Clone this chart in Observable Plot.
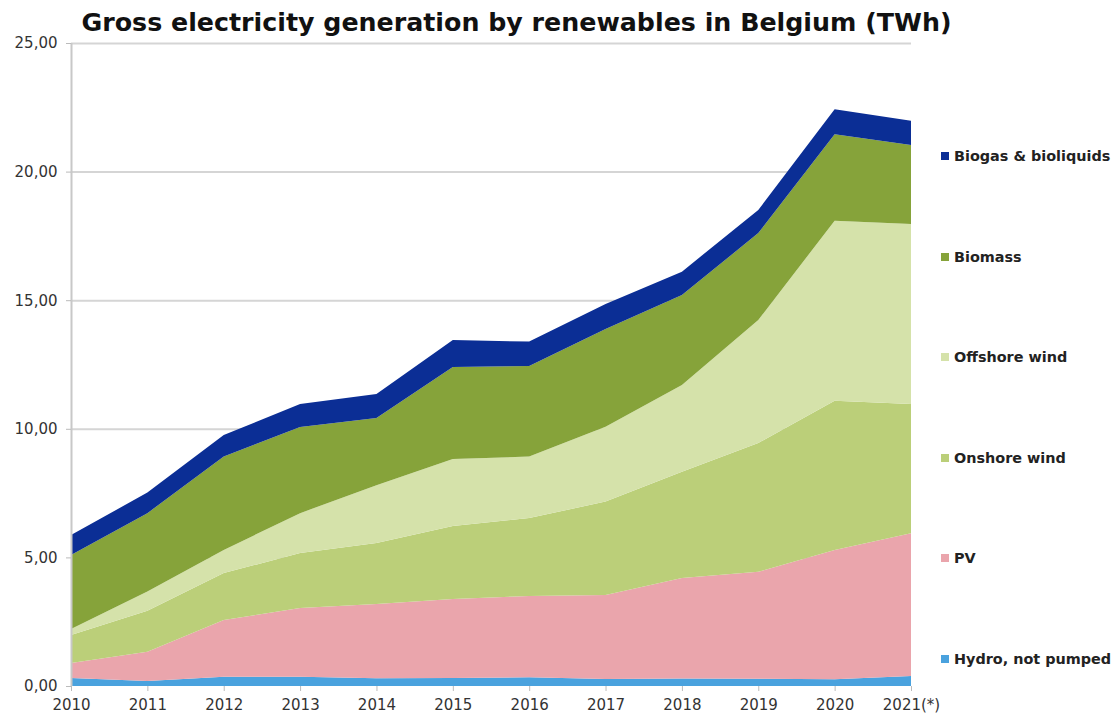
<!DOCTYPE html>
<html><head><meta charset="utf-8">
<script src="https://cdn.jsdelivr.net/npm/d3@7"></script>
<script src="https://cdn.jsdelivr.net/npm/@observablehq/plot@0.6"></script>
<style>
body{margin:0;background:#fff;}
#wrap{position:relative;width:1113px;height:716px;overflow:hidden;font-family:"DejaVu Sans",sans-serif;}
#title{position:absolute;left:0;width:1033px;top:8px;text-align:center;font-weight:bold;font-size:25.3px;color:#111;white-space:nowrap;}
#chart{position:absolute;left:0;top:30px;}
#legend{position:absolute;left:941px;top:0;}
.item{position:absolute;left:0;white-space:nowrap;font-weight:bold;font-size:14.4px;color:#222;line-height:16px;}
.sw{display:inline-block;width:8px;height:8px;margin-right:5px;vertical-align:1px;}
</style></head>
<body>
<div id="wrap">
  <div id="chart"></div>
  <div id="title">Gross electricity generation by renewables in Belgium (TWh)</div>
  <div id="legend"></div>
</div>
<script>
const years = [2010, 2011, 2012, 2013, 2014, 2015, 2016, 2017, 2018, 2019, 2020, 2021];
const yearLabels = ["2010", "2011", "2012", "2013", "2014", "2015", "2016", "2017", "2018", "2019", "2020", "2021(*)"];
const series = ["Hydro, not pumped", "PV", "Onshore wind", "Offshore wind", "Biomass", "Biogas & bioliquids"];
const hydro    = [0.31, 0.19, 0.36, 0.36, 0.30, 0.31, 0.34, 0.27, 0.29, 0.28, 0.26, 0.39];
const pv       = [0.58, 1.14, 2.21, 2.67, 2.89, 3.07, 3.16, 3.27, 3.91, 4.16, 5.03, 5.55];
const onshore  = [1.09, 1.60, 1.82, 2.14, 2.37, 2.84, 3.03, 3.63, 4.13, 5.01, 5.80, 5.02];
const offshore = [0.24, 0.74, 0.90, 1.55, 2.25, 2.61, 2.39, 2.91, 3.37, 4.78, 7.00, 7.00];
const biomass  = [2.87, 3.05, 3.63, 3.35, 2.61, 3.57, 3.52, 3.80, 3.50, 3.38, 3.36, 3.07];
const biogas   = [0.78, 0.80, 0.84, 0.89, 0.93, 1.05, 0.95, 0.97, 0.91, 0.90, 0.97, 0.95];
const yTicks = [0, 5, 10, 15, 20, 25];
const colors = ["#4aa2de", "#eaa5ac", "#bbcf79", "#d5e2aa", "#86a33a", "#0b2e95"];

const seriesValues = [hydro, pv, onshore, offshore, biomass, biogas];
const data = years.flatMap((yr, i) => series.map((s, j) => ({year: yr, series: s, value: seriesValues[j][i]})));

const fmtY = d => d.toFixed(2).replace(".", ",");
const fmtX = d => yearLabels[years.indexOf(d)];

const chart = Plot.plot({
  width: 1113, height: 686,
  marginLeft: 71, marginRight: 202, marginTop: 13, marginBottom: 30,
  x: {domain: [2010, 2021]},
  y: {domain: [0, 25]},
  color: {domain: series, range: colors},
  style: {fontFamily: "DejaVu Sans, sans-serif", fontSize: "15px", color: "#333", background: "transparent", overflow: "visible"},
  marks: [
    Plot.ruleY(yTicks.slice(1), {stroke: "#d5d5d5", strokeWidth: 2}),
    Plot.areaY(data, {x: "year", y: "value", fill: "series", order: series}),
    Plot.ruleX([2010], {stroke: "#c8c8c8", strokeWidth: 2}),
    Plot.axisX({ticks: years, tickFormat: fmtX, tickSize: 5, tickPadding: 8, stroke: "#bbb", fill: "#333", label: null, fontSize: 15}),
    Plot.axisY({ticks: yTicks, tickFormat: fmtY, tickSize: 5, tickPadding: 9, stroke: "#bbb", fill: "#333", label: null, fontSize: 15})
  ]
});
document.getElementById("chart").appendChild(chart);

const legend = document.getElementById("legend");
const legendOrder = series.slice().reverse();
legendOrder.forEach((s, i) => {
  const div = document.createElement("div");
  div.className = "item";
  div.style.top = (156 + i * 100.6 - 8) + "px";
  const sw = document.createElement("span");
  sw.className = "sw";
  sw.style.background = colors[series.indexOf(s)];
  div.appendChild(sw);
  div.appendChild(document.createTextNode(s));
  legend.appendChild(div);
});
</script>
</body></html>
